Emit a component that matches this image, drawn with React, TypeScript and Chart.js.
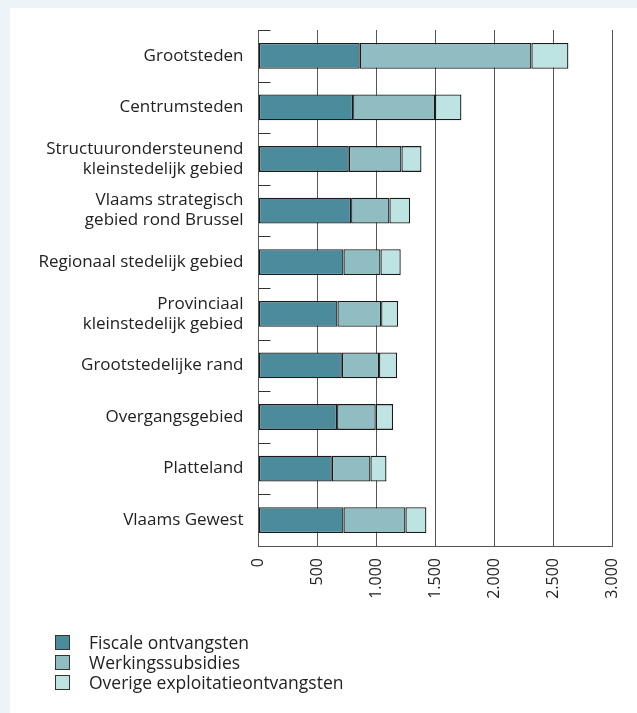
import React, { useEffect, useRef } from "react";
import { Chart, registerables } from "chart.js";

Chart.register(...registerables);

const categories: string[][] = [
  ["Grootsteden"],
  ["Centrumsteden"],
  ["Structuurondersteunend", "kleinstedelijk gebied"],
  ["Vlaams strategisch", "gebied rond Brussel"],
  ["Regionaal stedelijk gebied"],
  ["Provinciaal", "kleinstedelijk gebied"],
  ["Grootstedelijke rand"],
  ["Overgangsgebied"],
  ["Platteland"],
  ["Vlaams Gewest"],
];

const fiscaleOntvangsten = [859, 803, 766, 786, 721, 670, 707, 667, 622, 721];
const werkingssubsidies = [1457, 695, 447, 325, 314, 371, 316, 328, 328, 526];
const overigeExploitatie = [314, 224, 170, 176, 172, 144, 153, 147, 136, 178];

const seriesNames = ["Fiscale ontvangsten", "Werkingssubsidies", "Overige exploitatieontvangsten"];
const seriesColors = ["#4b8b9b", "#8fbdc1", "#bde3e2"];

const xTickStep = 500;
const xMax = 3000;

const FONT = "'Open Sans', 'Noto Sans', sans-serif";

const innerTicks = {
  id: "innerTicks",
  afterDatasetsDraw(chart: any) {
    const y = chart.scales.y;
    const ctx = chart.ctx;
    const n = categories.length;
    const step = y.getPixelForValue(1) - y.getPixelForValue(0);
    ctx.save();
    ctx.strokeStyle = "#333";
    ctx.lineWidth = 1;
    for (let i = 0; i < n; i++) {
      const pos = Math.round(y.getPixelForValue(i) - step / 2) + 0.5;
      ctx.beginPath();
      ctx.moveTo(chart.chartArea.left, pos);
      ctx.lineTo(chart.chartArea.left + 12, pos);
      ctx.stroke();
    }
    ctx.restore();
  },
};

export default function App() {
  const ref = useRef<HTMLCanvasElement | null>(null);

  useEffect(() => {
    if (!ref.current) return;
    const data = [fiscaleOntvangsten, werkingssubsidies, overigeExploitatie];
    const chart = new Chart(ref.current, {
      type: "bar",
      data: {
        labels: categories,
        datasets: data.map((d, i) => ({
          label: seriesNames[i],
          data: d,
          backgroundColor: seriesColors[i],
          borderColor: "#1a1a1a",
          borderWidth: 1.3,
          borderSkipped: false,
          barPercentage: 0.5,
          categoryPercentage: 1,
        })),
      },
      options: {
        indexAxis: "y",
        responsive: false,
        animation: false,
        layout: { padding: { top: 30, right: 25, left: 0, bottom: 107 } },
        plugins: { legend: { display: false }, tooltip: { enabled: false } },
        scales: {
          x: {
            stacked: true,
            min: 0,
            max: xMax,
            afterFit: (s: any) => {
              s.height = 60;
              s.paddingLeft = 0;
              s.paddingRight = 0;
            },
            ticks: {
              stepSize: xTickStep,
              minRotation: 90,
              maxRotation: 90,
              padding: 12,
              color: "#222",
              font: { family: FONT, size: 16 },
              callback: (v: any) => Number(v).toLocaleString("de-DE"),
            },
            grid: { color: "#555", lineWidth: 1, drawTicks: false },
            border: { color: "#555", width: 1 },
          },
          y: {
            stacked: true,
            afterFit: (s: any) => {
              s.width = 258.5;
              s.paddingTop = 0;
              s.paddingBottom = 0;
            },
            ticks: {
              padding: 15,
              color: "#222",
              font: { family: FONT, size: 17, lineHeight: 1.18 },
            },
            grid: { display: false, drawTicks: false },
            border: { color: "#555", width: 1 },
          },
        },
      },
      plugins: [innerTicks],
    } as any);
    return () => chart.destroy();
  }, []);

  return (
    <div style={{ position: "absolute", left: 0, top: 0, width: 637, height: 713, background: "#edf4f8", overflow: "hidden" }}>
      <div style={{ position: "absolute", left: 10, top: 8, right: 0, bottom: 0, background: "#ffffff" }} />
      <canvas ref={ref} width={637} height={713} style={{ position: "absolute", left: 0, top: 0, width: 637, height: 713 }} />
      <div style={{ position: "absolute", left: 55, top: 632, fontFamily: FONT, fontSize: 17.5, color: "#222" }}>
        {seriesNames.map((name, i) => (
          <div key={name} style={{ display: "flex", alignItems: "center", height: 20, lineHeight: "20px" }}>
            <span style={{ display: "inline-block", width: 13, height: 13, background: seriesColors[i], border: "1px solid #333", marginRight: 19 }} />
            <span>{name}</span>
          </div>
        ))}
      </div>
    </div>
  );
}
